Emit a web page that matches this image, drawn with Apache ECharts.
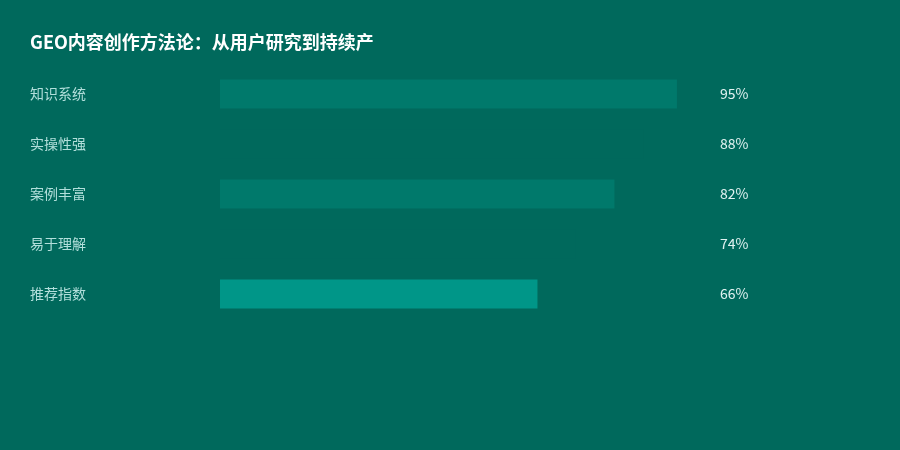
<!DOCTYPE html>
<html><head><meta charset="utf-8">
<script src="https://cdn.jsdelivr.net/npm/echarts@6/dist/echarts.min.js"></script>
<style>html,body{margin:0;padding:0;background:#00695C}#c{width:900px;height:450px}</style>
</head><body><div id="c"></div>
<script>
const titleText = 'GEO内容创作方法论：从用户研究到持续产';
const categories = ['知识系统', '实操性强', '案例丰富', '易于理解', '推荐指数'];
const values = [95, 88, 82, 74, 66];
const barColors = ['#00796B', '#00695C', '#00796B', '#00695C', '#009688'];
const font = '"Noto Sans CJK SC", "Noto Sans", sans-serif';
const chart = echarts.init(document.getElementById('c'));
chart.setOption({
  backgroundColor: '#00695C',
  animation: false,
  title: { text: titleText, left: 30, top: 33, padding: 0, textStyle: { color: '#ffffff', fontSize: 18, fontWeight: 'bold', fontFamily: font } },
  grid: { left: 220, right: 199, top: 69, height: 250 },
  xAxis: { type: 'value', min: 0, max: 100, show: false },
  yAxis: [
    { type: 'category', data: categories, inverse: true, axisLine: { show: false }, axisTick: { show: false },
      axisLabel: { color: '#B2DFDB', fontSize: 14, fontFamily: font, align: 'left', margin: 190 } },
    { type: 'category', data: categories, inverse: true, position: 'right', axisLine: { show: false }, axisTick: { show: false },
      axisLabel: { color: '#E0F2F1', fontSize: 14, fontFamily: font, align: 'left', margin: 19,
        formatter: (v, i) => values[i] + '%' } }
  ],
  series: [{
    type: 'bar', yAxisIndex: 0, barWidth: 29,
    data: values.map((v, i) => ({ value: v, itemStyle: { color: barColors[i] } }))
  }]
});
</script></body></html>
